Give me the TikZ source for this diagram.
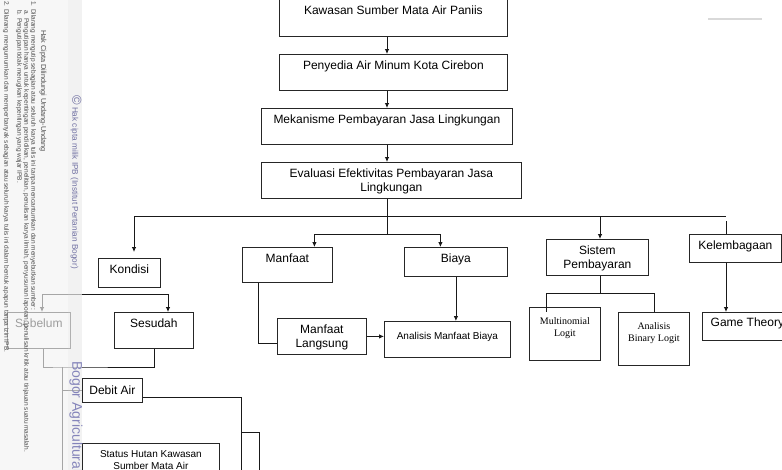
\documentclass[tikz,border=0pt]{standalone}
\usepackage{fontspec}
\setmainfont{Liberation Sans}
\newfontfamily\serifnote{Liberation Serif}
\usepackage{tikz}
\usetikzlibrary{arrows.meta, calc}

\definecolor{ipbblue}{RGB}{112,112,162}
\definecolor{ipbmark}{RGB}{132,132,186}

\tikzset{
    box/.style={draw=black!85, line width=0.8pt, anchor=north west, inner xsep=2pt, inner ysep=6.5pt,
        text height=9pt, align=center, font=\fontsize{12pt}{13.5pt}\selectfont},
    twoline/.style={text height=22.5pt, text depth=0.5pt},
    smallbox/.style={box, text height=7.5pt, font=\fontsize{10pt}{12pt}\selectfont},
    logitbox/.style={box, text height=19pt, inner ysep=10.3pt, text depth=13.4pt,
        font=\serifnote\fontsize{10pt}{12pt}\selectfont},
    link/.style={line width=0.8pt, black!90},
    wmark/.style={rotate=-90, anchor=west, inner sep=0pt, black!70, font=\fontsize{6.5pt}{7pt}\selectfont},
}

\begin{document}
\begin{tikzpicture}[x=1pt, y=-1pt, >={Latex[length=5pt,width=4.5pt]}]
        \useasboundingbox (0,0) rectangle (782,469);
        \clip (0,0) rectangle (782,469);

        \node[box, minimum width=228, text depth=15pt] (kawasan) at (279,-1) {Kawasan Sumber Mata Air Paniis};
        \node[box, minimum width=228, text depth=14pt] (penyedia) at (279,54) {Penyedia Air Minum Kota Cirebon};
        \node[box, minimum width=251, text depth=14pt] (mekanisme) at (261,108) {Mekanisme Pembayaran Jasa Lingkungan};
        \node[box, twoline, minimum width=260] (evaluasi) at (261,162) {Evaluasi Efektivitas Pembayaran Jasa\\Lingkungan};

        \node[box, minimum width=62, text depth=7pt] (kondisi) at (98,258) {Kondisi};
        \node[box, minimum width=90, text depth=13pt] (manfaat) at (242,247) {Manfaat};
        \node[box, minimum width=103, text depth=7pt] (biaya) at (404,247) {Biaya};
        \node[box, twoline, minimum width=102] (sistem) at (546,239) {Sistem\\Pembayaran};
        \node[box, minimum width=92, text depth=6pt] (kelembagaan) at (689,234) {Kelembagaan};

        \node[box, minimum width=63, text depth=14pt] (sebelum) at (7,312) {Sebelum};
        \node[box, minimum width=79, text depth=14pt] (sesudah) at (114,312) {Sesudah};
        \node[box, twoline, minimum width=89] (langsung) at (277,318) {Manfaat\\Langsung};
        \node[smallbox, minimum width=126, inner ysep=11pt, text depth=6.5pt] (amb) at (384,321) {Analisis Manfaat Biaya};
        \node[logitbox, minimum width=71] (multinomial) at (529,307) {Multinomial\\Logit};
        \node[logitbox, minimum width=71] (binary) at (618,312) {Analisis\\Binary Logit};
        \node[box, minimum width=90, inner ysep=5.3pt, text depth=8.4pt] (game) at (702,312) {Game Theory};

        \node[box, minimum width=60, inner ysep=7.3pt, text depth=0.4pt] (debit) at (82,378) {Debit Air};
        \node[smallbox, minimum width=137, inner ysep=6.1pt, text height=19.5pt, text depth=28pt] (status) at (82,443) {Status Hutan Kawasan\\Sumber Mata Air};

        \coordinate (trunk) at (387,0);
        \coordinate (barL) at (134,216);
        \coordinate (barR) at (726,216);
        \coordinate (split2) at (387,234);
        \coordinate (split3) at (600,293);
        \coordinate (sbL) at (42,294);
        \coordinate (sbR) at (168,294);
        \coordinate (spine) at (62,367);
        \coordinate (spineEnd) at (62,480);
        \coordinate (debitEnd) at (241,480);
        \coordinate (stepA) at (241,432);
        \coordinate (stepEnd) at (259,480);

        \draw[link,->] (kawasan.south -| trunk) -- (penyedia.north -| trunk);
        \draw[link,->] (penyedia.south -| trunk) -- (mekanisme.north -| trunk);
        \draw[link,->] (mekanisme.south -| trunk) -- (evaluasi.north -| trunk);
        \draw[link] (evaluasi.south -| trunk) -- (split2);

        \draw[link] (barL) -- (barR);
        \draw[link,->,shorten >=6pt] (barL) -- (barL |- kondisi.north);
        \draw[link,->] (split2) -| ([xshift=27]manfaat.north);
        \draw[link,->] (split2) -| ([xshift=-15.5]biaya.north);
        \draw[link,->] (barR -| split3) -- (split3 |- sistem.north);
        \draw[link] ([yshift=-5]barR) -- (barR |- kelembagaan.north);
        \draw[link,->] (barR |- kelembagaan.south) -- (barR |- game.north);

        \draw[link] (split3 |- sistem.south) -- (split3);
        \draw[link] (split3) -| ([xshift=-18.5,yshift=-5]multinomial.north);
        \draw[link] (split3) -| (binary.north);

        \draw[link] ([xshift=-29]manfaat.south) |- ([yshift=-7]langsung.west);
        \draw[link,->] (langsung.east) -- (langsung.east -| amb.west);
        \draw[link,->] (biaya.south) -- (biaya.south |- amb.north);

        \draw[link] (sbL) -- (sbR);
        \draw[link,->] (sbL) -- (sbL |- sebelum.north);
        \draw[link,->] (sbR) -- (sbR |- sesudah.north);
        \draw[link] ([xshift=4.5]sebelum.south) |- (spine) -| (sesudah.south);
        \draw[link] (spine) -- (spineEnd);
        \draw[link] (spine |- debit.west) -- (debit.west);
        \draw[link] ([yshift=-7]debit.east) -| (debitEnd);
        \draw[link] (stepA) -| (stepEnd);

        \draw[gray!30, line width=1.5pt] (708,19) -- (762,19);

        % watermark strip
        \fill[gray!10, opacity=0.65] (0,-2) rectangle (68,471);
        \fill[gray!15, opacity=0.7] (68,-2) rectangle (81.5,471);

        \node[wmark, font=\fontsize{7.3pt}{8pt}\selectfont] (wm-head) at (43,30) {Hak Cipta Dilindungi Undang-Undang};
        \node[wmark] (wm-1) at (33,1) {1. Dilarang mengutip sebagian atau seluruh karya tulis ini tanpa mencantumkan dan menyebutkan sumber:};
        \node[wmark] (wm-a) at (26,10) {a. Pengutipan hanya untuk kepentingan pendidikan, penelitian, penulisan karya ilmiah, penyusunan laporan, penulisan kritik atau tinjauan suatu masalah.};
        \node[wmark] (wm-b) at (19,10) {b. Pengutipan tidak merugikan kepentingan yang wajar IPB.};
        \node[wmark] (wm-2) at (6,1) {2. Dilarang mengumumkan dan memperbanyak sebagian atau seluruh karya tulis ini dalam bentuk apapun tanpa izin IPB.};
        \node[wmark, ipbblue, font=\fontsize{8.2pt}{9pt}\selectfont] (wm-hak) at (76,95) {{\fontsize{13pt}{13pt}\selectfont ©}\ Hak cipta milik IPB (Institut Pertanian Bogor)};
        \node[wmark, ipbmark, font=\fontsize{14pt}{15pt}\selectfont] (wm-bogor) at (76,361) {Bogor Agricultural University};

    \end{tikzpicture}
\end{document}
